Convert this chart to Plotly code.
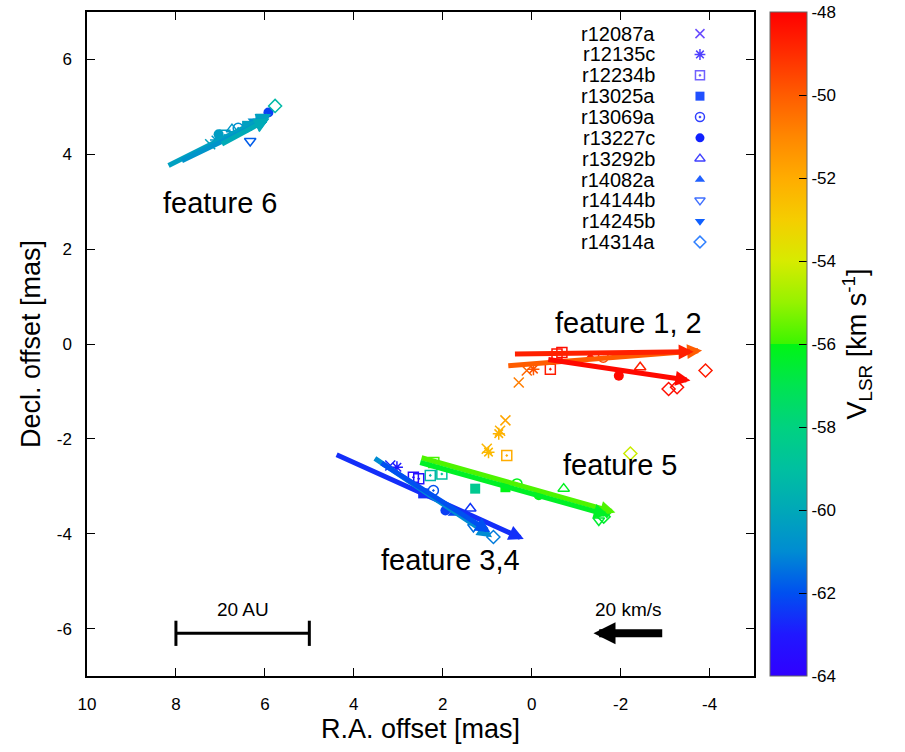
import plotly.graph_objects as go
from plotly.colors import sample_colorscale

# ---------------- data ----------------
EPOCHS = ["r12087a", "r12135c", "r12234b", "r13025a", "r13069a", "r13227c",
          "r13292b", "r14082a", "r14144b", "r14245b", "r14314a"]

# maser spots: epoch index, RA offset [mas], Dec offset [mas], V_LSR [km/s]
spot_epoch = [
    # feature 6
    0, 1, 2, 5, 6, 4, 7, 3, 8, 9, 5, 10, 3,
    # feature 1,2
    2, 2, 2, 5, 4, 6, 10, 10, 10, 0, 0, 1, 7,
    # orange spots
    0, 1, 0, 0, 1, 2,
    # yellow spot
    10,
    # feature 5
    3, 4, 5, 6, 8, 9, 10, 2,
    # teal spots
    2, 2, 3,
    # feature 3,4
    0, 1, 2, 2, 3, 4, 5, 7, 6, 8, 10,
]
spot_x = [
    7.23, 7.10, 6.90, 7.04, 6.74, 6.60, 6.50, 6.40, 6.33, 6.26, 5.92, 5.77, 6.10,
    -0.68, -0.57, -0.42, -1.96, -1.61, -2.44, -3.08, -3.27, -3.91, 0.29, 0.11, -0.04, -1.32,
    0.59, 0.74, 0.71, 1.01, 0.97, 0.56,
    -2.22,
    0.59, 0.33, -0.16, -0.72, -1.51, -1.69, -1.62, 2.20,
    2.28, 2.02, 1.27,
    3.18, 3.03, 2.66, 2.54, 2.44, 2.21, 1.94, 1.76, 1.38, 1.31, 0.86,
]
spot_y = [
    4.21, 4.30, 4.40, 4.42, 4.53, 4.55, 4.50, 4.60, 4.28, 4.70, 4.88, 5.02, 4.75,
    -0.18, -0.21, -0.53, -0.67, -0.28, -0.49, -0.95, -0.91, -0.56, -0.81, -0.56, -0.53, -0.28,
    -1.61, -1.89, -1.83, -2.21, -2.28, -2.35,
    -2.31,
    -3.02, -2.95, -3.19, -3.05, -3.72, -3.58, -3.64, -2.50,
    -2.77, -2.74, -3.05,
    -2.56, -2.60, -2.81, -2.84, -3.15, -3.09, -3.51, -3.57, -3.47, -3.86, -4.07,
]
spot_v = [
    -60.2, -60.5, -60.4, -60.4, -60.6, -60.9, -60.3, -60.3, -61.8, -60.8, -62.3, -59.3, -60.5,
    -48.3, -48.4, -48.6, -48.2, -49.6, -48.7, -48.3, -48.3, -48.6, -50.8, -50.2, -49.8, -48.5,
    -51.8, -52.2, -52.1, -52.3, -52.4, -52.0,
    -54.2,
    -56.0, -56.1, -56.0, -56.2, -56.5, -56.3, -56.4, -55.9,
    -59.3, -59.0, -58.5,
    -62.8, -63.0, -63.5, -63.3, -62.6, -62.0, -62.3, -62.2, -62.5, -61.5, -61.3,
]

# proper-motion vectors: start RA, start Dec [mas], v_RA, v_Dec [km/s], V_LSR [km/s]
arrow_x0 = [8.20, 7.90, 7.00, 0.56, 0.41, -0.34, 2.51, 2.54, 4.42, 3.56, 3.41]
arrow_y0 = [3.75, 3.85, 4.20, -0.46, -0.21, -0.32, -2.39, -2.49, -2.32, -2.39, -2.49]
arrow_vx = [-29.7, -25.3, -13.9, -55.6, -51.3, -40.9, -55.6, -54.1, -53.7, -33.8, -31.4]
arrow_vy = [13.9, 11.4, 7.0, 4.1, 0.6, -5.7, -14.7, -14.2, -22.7, -21.3, -18.7]
arrow_v = [-60.3, -60.7, -59.9, -50.0, -48.7, -48.2, -55.8, -56.3, -62.6, -61.0, -62.0]

MAS_PER_KMS = 1.58 / 20.0      # arrow scale: 20 km/s reference vector
REF_VEL_KMS = 20
SCALEBAR_MAS = 3.0             # 20 AU
SCALEBAR_AU = 20

FEATURE_LABELS = ["feature 6", "feature 1, 2", "feature 5", "feature 3,4"]

VMIN, VMAX = -64, -48
X_TICKS = [10, 8, 6, 4, 2, 0, -2, -4]
Y_TICKS = [-6, -4, -2, 0, 2, 4, 6]
CBAR_TICKS = list(range(-64, -47, 2))

# ---------------- style ----------------
FONT = "Liberation Sans, Arial, Helvetica, sans-serif"
SYMBOLS = ["x-thin-open", "asterisk-open", "square-open-dot", "square", "circle-open-dot",
           "circle", "triangle-up-open", "triangle-up", "triangle-down-open",
           "triangle-down", "diamond-open"]
LEGEND_COLORS = ["#6a4cff", "#5040ff", "#7060ff", "#2050ff", "#3040ff", "#1020ff",
                 "#4040ff", "#2060ff", "#4070ff", "#1060ff", "#3080ff"]
CS = [
    [0.0, "rgb(48,0,255)"], [0.0625, "rgb(32,24,255)"], [0.125, "rgb(0,80,240)"],
    [0.1875, "rgb(0,140,210)"], [0.25, "rgb(0,168,184)"], [0.3125, "rgb(0,192,160)"],
    [0.375, "rgb(0,210,128)"], [0.4375, "rgb(0,228,80)"], [0.5, "rgb(0,245,20)"],
    [0.5001, "rgb(60,245,0)"], [0.5625, "rgb(150,242,0)"], [0.625, "rgb(215,235,0)"],
    [0.6875, "rgb(245,205,0)"], [0.75, "rgb(255,172,0)"], [0.8125, "rgb(255,135,0)"],
    [0.875, "rgb(255,92,0)"], [0.9375, "rgb(255,45,0)"], [1.0, "rgb(255,0,0)"],
]
FEATURE_LABEL_POS = [(7.0, 2.97), (-2.17, 0.45), (-1.99, -2.56), (1.83, -4.56)]


def is_open(sym):
    return "open" in sym


def tick_text(vals):
    return [str(v) for v in vals]


fig = go.Figure()

# spots, grouped by epoch
for ei, name in enumerate(EPOCHS):
    idx = [i for i, e in enumerate(spot_epoch) if e == ei]
    if not idx:
        continue
    sym = SYMBOLS[ei]
    fig.add_trace(go.Scatter(
        x=[spot_x[i] for i in idx], y=[spot_y[i] for i in idx],
        mode="markers", name=name, showlegend=False,
        marker=dict(symbol=sym, size=10,
                    color=[spot_v[i] for i in idx],
                    coloraxis="coloraxis", line=dict(width=1.5 if is_open(sym) else 0)),
    ))

# scale bar (20 AU)
sb_x0 = 8.0
fig.add_trace(go.Scatter(
    x=[sb_x0, sb_x0 - SCALEBAR_MAS], y=[-6.1, -6.1], mode="lines+markers",
    line=dict(color="black", width=3),
    marker=dict(symbol="line-ns-open", size=18, color="black", line=dict(width=3)),
    showlegend=False, hoverinfo="skip",
))

# manual legend (symbols right of labels) on an overlay unit axis
LEG_X, LEG_Y0, LEG_DY = 0.919, 0.9674, 0.03138
annotations = []
for ei, name in enumerate(EPOCHS):
    yy = LEG_Y0 - ei * LEG_DY
    sym = SYMBOLS[ei]
    fig.add_trace(go.Scatter(
        x=[LEG_X], y=[yy], xaxis="x2", yaxis="y2", mode="markers", showlegend=False,
        marker=dict(symbol=sym, size=9 if is_open(sym) else 9, color=LEGEND_COLORS[ei],
                    line=dict(width=1.5 if is_open(sym) else 0)),
        hoverinfo="skip",
    ))
    annotations.append(dict(x=0.855, y=yy, xref="x2", yref="y2", text=name, showarrow=False,
                            xanchor="right", yanchor="middle",
                            font=dict(family=FONT, size=20, color="black")))

# proper-motion arrows
for x0, y0, vx, vy, v in zip(arrow_x0, arrow_y0, arrow_vx, arrow_vy, arrow_v):
    col = sample_colorscale(CS, [(v - VMIN) / (VMAX - VMIN)])[0]
    annotations.append(dict(
        x=x0 + vx * MAS_PER_KMS, y=y0 + vy * MAS_PER_KMS, ax=x0, ay=y0,
        xref="x", yref="y", axref="x", ayref="y", text="", showarrow=True,
        arrowhead=2, arrowsize=0.6, arrowwidth=5, arrowcolor=col, standoff=0,
    ))

# reference velocity arrow (20 km/s)
ref_x0, ref_y0 = -2.97, -6.1
annotations.append(dict(
    x=ref_x0 + REF_VEL_KMS * MAS_PER_KMS, y=ref_y0, ax=ref_x0, ay=ref_y0,
    xref="x", yref="y", axref="x", ayref="y", text="", showarrow=True,
    arrowhead=2, arrowsize=0.55, arrowwidth=8, arrowcolor="black", standoff=0,
))
annotations.append(dict(x=ref_x0 + REF_VEL_KMS * MAS_PER_KMS / 2, y=-5.6, xref="x", yref="y",
                        text=f"{REF_VEL_KMS} km/s", showarrow=False,
                        font=dict(family=FONT, size=19, color="black")))
annotations.append(dict(x=sb_x0 - SCALEBAR_MAS / 2, y=-5.6, xref="x", yref="y",
                        text=f"{SCALEBAR_AU} AU", showarrow=False,
                        font=dict(family=FONT, size=19, color="black")))

for lab, (lx, ly) in zip(FEATURE_LABELS, FEATURE_LABEL_POS):
    annotations.append(dict(x=lx, y=ly, xref="x", yref="y", text=lab, showarrow=False,
                            font=dict(family=FONT, size=29, color="black")))

axis_common = dict(showline=True, linecolor="black", linewidth=1.5, mirror="ticks",
                   ticks="inside", ticklen=8, tickwidth=1, tickcolor="black",
                   showgrid=False, zeroline=False,
                   tickfont=dict(family=FONT, size=17, color="black"))

fig.update_layout(
    width=905, height=752,
    margin=dict(l=87, r=151, t=10, b=76),
    paper_bgcolor="white", plot_bgcolor="white",
    font=dict(family=FONT, color="black"),
    showlegend=False,
    xaxis=dict(range=[10, -5], tickvals=X_TICKS, ticktext=tick_text(X_TICKS),
               ticklabelstandoff=12,
               title=dict(text="R.A. offset [mas]", font=dict(family=FONT, size=27), standoff=6),
               **axis_common),
    yaxis=dict(range=[-7, 7], tickvals=Y_TICKS, ticktext=tick_text(Y_TICKS),
               ticklabelstandoff=10,
               title=dict(text="Decl. offset [mas]", font=dict(family=FONT, size=27), standoff=8),
               **axis_common),
    xaxis2=dict(overlaying="x", range=[0, 1], visible=False),
    yaxis2=dict(overlaying="y", range=[0, 1], visible=False),
    coloraxis=dict(
        colorscale=CS, cmin=VMIN, cmax=VMAX,
        colorbar=dict(
            thickness=37, len=1, lenmode="fraction", y=0.5, yanchor="middle",
            x=1.024, xanchor="left", xpad=0, ypad=0,
            outlinewidth=1, outlinecolor="#666",
            ticks="inside", ticklen=8, tickcolor="black",
            tickvals=CBAR_TICKS, ticktext=tick_text(CBAR_TICKS),
            tickfont=dict(family=FONT, size=17, color="black"),
            title=dict(text="V<sub>LSR</sub> [km s<sup>-1</sup>]", side="right",
                       font=dict(family=FONT, size=27, color="black")),
        ),
    ),
    annotations=annotations,
)

fig.write_html("out.html")
